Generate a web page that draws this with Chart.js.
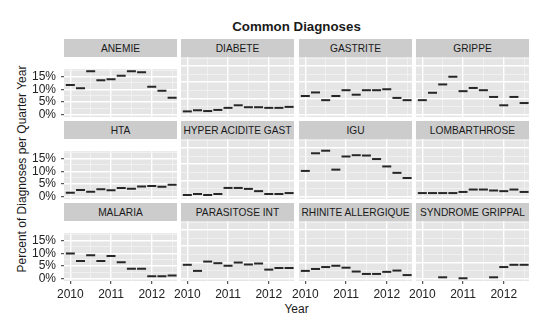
<!DOCTYPE html>
<html>
<head>
<meta charset="utf-8">
<script src="https://cdn.jsdelivr.net/npm/chart.js@4/dist/chart.umd.min.js"></script>
<style>
  html, body { margin: 0; padding: 0; background: #ffffff; }
  #fig { position: relative; width: 550px; height: 327px; overflow: hidden;
         font-family: "Liberation Sans", Arial, sans-serif; color: #1a1a1a; }
  .cell { position: absolute; }
  .strip { position: absolute; background: #CCCCCC; color: #1a1a1a; font-size: 10.2px;
           text-align: center; white-space: nowrap; box-sizing: border-box; padding-top: 1.5px; }
  .title { position: absolute; font-weight: bold; font-size: 13.3px; line-height: 16px;
           white-space: nowrap; text-align: center; }
  .axis-title { position: absolute; font-size: 12px; line-height: 14px; white-space: nowrap;
                text-align: center; }
</style>
</head>
<body>
<div id="fig">
  <div class="title" style="left:196.5px;width:200px;top:19.4px;">Common Diagnoses</div>
  <div class="axis-title" style="left:246.5px;width:100px;top:301.8px;">Year</div>
  <div class="axis-title" style="left:-128.2px;width:300px;top:162px;transform:rotate(-90deg);">Percent of Diagnoses per Quarter Year</div>
</div>
<script>
// Quarter start dates (decimal years) and facet names
const quarters = [2010, 2010.25, 2010.5, 2010.75, 2011, 2011.25, 2011.5, 2011.75, 2012, 2012.25, 2012.5];
const diagnoses = ['ANEMIE', 'DIABETE', 'GASTRITE', 'GRIPPE',
                   'HTA', 'HYPER ACIDITE GAST', 'IGU', 'LOMBARTHROSE',
                   'MALARIA', 'PARASITOSE INT', 'RHINITE ALLERGIQUE', 'SYNDROME GRIPPAL'];

// Percent of diagnoses per quarter (null = no cases recorded that quarter)
const anemie            = [11.7, 10.4, 17.0, 13.5, 13.9, 15.3, 17.0, 16.7, 11.0, 9.4, 6.7];
const diabete           = [0.9, 1.25, 1.0, 1.35, 2.0, 2.8, 2.2, 2.2, 2.0, 2.0, 2.3];
const gastrite          = [5.7, 6.8, 4.4, 5.7, 7.5, 6.1, 7.5, 7.5, 7.8, 5.1, 4.4];
const grippe            = [4.4, 6.7, 9.3, 11.7, 7.2, 8.2, 7.5, 5.4, 2.8, 5.4, 3.5];
const hta               = [1.6, 2.7, 2.0, 3.0, 2.6, 3.5, 3.2, 4.0, 4.2, 3.9, 4.7];
const hyperAciditeGast  = [0.4, 0.7, 0.4, 0.7, 2.6, 2.6, 2.3, 1.6, 0.7, 0.7, 1.0];
const igu               = [7.9, 13.4, 14.2, 8.3, 12.4, 12.8, 12.7, 11.6, 9.3, 7.3, 5.7];
const lombarthrose      = [1.0, 1.0, 1.0, 1.0, 1.35, 2.1, 2.1, 1.8, 1.6, 2.1, 1.35];
const malaria           = [9.9, 7.0, 9.2, 7.0, 8.9, 6.5, 3.9, 3.9, 1.0, 1.0, 1.35];
const parasitoseInt     = [4.2, 2.3, 5.2, 4.7, 3.9, 4.9, 4.3, 4.6, 2.7, 3.2, 3.2];
const rhiniteAllergique = [2.3, 2.9, 3.5, 3.9, 3.3, 2.1, 1.35, 1.35, 2.0, 2.4, 1.0];
const syndromeGrippal   = [null, null, 0.3, null, 0.0, null, null, 0.3, 3.5, 4.2, 4.2];

// Axis breaks
const yearTicks = [2010, 2011, 2012];
const yearMinor = [2010.5, 2011.5, 2012.5];
const percentTicks = [0, 5, 10, 15];
const percentMinor = [2.5, 7.5, 12.5, 17.5];

const seriesList = [anemie, diabete, gastrite, grippe, hta, hyperAciditeGast,
                    igu, lombarthrose, malaria, parasitoseInt, rhiniteAllergique, syndromeGrippal];

// Facet grid geometry
const COL_LEFT = [64, 181, 299, 416];
const ROW_TOP = [57, 139, 221];
const PANEL_W = 113, PANEL_H = 60, STRIP_H = 18;
const AXIS_W = 40, AXIS_H = 22, PAD_R = 10;
const X_MIN = 2009.845, X_MAX = 2012.62;
const Y_MIN = -0.85, Y_MAX = 17.85;

const FONT = '"Liberation Sans", Arial, sans-serif';
const TEXT_COL = '#222222';
const fig = document.getElementById('fig');

const panelBackground = {
  id: 'panelBackground',
  beforeDraw(chart) {
    const { ctx, chartArea } = chart;
    ctx.save();
    ctx.fillStyle = '#E5E5E5';
    ctx.fillRect(chartArea.left, chartArea.top, chartArea.width, chartArea.height);
    ctx.restore();
  }
};

const isIn = (arr, v) => arr.some(a => Math.abs(a - v) < 1e-9);

function drawFacet(i) {
  const col = i % 4, row = Math.floor(i / 4);
  const isLeft = col === 0, isBottom = row === 2;

  const strip = document.createElement('div');
  strip.className = 'strip';
  strip.style.left = COL_LEFT[col] + 'px';
  strip.style.top = (ROW_TOP[row] - STRIP_H) + 'px';
  strip.style.width = PANEL_W + 'px';
  strip.style.height = STRIP_H + 'px';
  strip.style.lineHeight = (STRIP_H - 1.5) + 'px';
  strip.textContent = diagnoses[i];
  fig.appendChild(strip);

  const wrap = document.createElement('div');
  wrap.className = 'cell';
  wrap.style.left = (COL_LEFT[col] - AXIS_W) + 'px';
  wrap.style.top = ROW_TOP[row] + 'px';
  wrap.style.width = (AXIS_W + PANEL_W + PAD_R) + 'px';
  wrap.style.height = (PANEL_H + AXIS_H) + 'px';
  const canvas = document.createElement('canvas');
  wrap.appendChild(canvas);
  fig.appendChild(wrap);

  const points = [];
  quarters.forEach((q, k) => {
    const v = seriesList[i][k];
    if (v !== null && v !== undefined) points.push({ x: q, y: v });
  });

  new Chart(canvas, {
    type: 'scatter',
    data: {
      datasets: [{
        data: points,
        pointStyle: 'line',
        pointRadius: 4.5,
        pointHoverRadius: 4.5,
        pointBorderWidth: 2,
        pointBorderColor: '#262626',
        pointBackgroundColor: '#262626'
      }]
    },
    options: {
      responsive: true,
      maintainAspectRatio: false,
      animation: false,
      events: [],
      layout: { padding: { left: 0, right: PAD_R, top: 0, bottom: 0 }, autoPadding: false },
      plugins: { legend: { display: false }, tooltip: { enabled: false } },
      scales: {
        x: {
          type: 'linear', position: 'bottom', min: X_MIN, max: X_MAX,
          afterBuildTicks: s => { s.ticks = yearTicks.concat(yearMinor).sort((a, b) => a - b).map(v => ({ value: v })); },
          afterFit: s => { s.height = AXIS_H; },
          border: { display: false },
          grid: {
            color: c => (c.tick && isIn(yearTicks, c.tick.value)) ? '#FFFFFF' : '#F2F2F2',
            lineWidth: c => (c.tick && isIn(yearTicks, c.tick.value)) ? 1.4 : 0.8,
            drawTicks: isBottom,
            tickLength: 3,
            tickWidth: 1,
            tickColor: c => (c.tick && isIn(yearTicks, c.tick.value)) ? '#333333' : 'rgba(0,0,0,0)'
          },
          ticks: {
            display: isBottom, autoSkip: false, maxRotation: 0, padding: 3,
            color: TEXT_COL, font: { family: FONT, size: 12 },
            callback: v => isIn(yearTicks, v) ? String(v) : ''
          }
        },
        y: {
          type: 'linear', position: 'left', min: Y_MIN, max: Y_MAX,
          afterBuildTicks: s => { s.ticks = percentTicks.concat(percentMinor).sort((a, b) => a - b).map(v => ({ value: v })); },
          afterFit: s => { s.width = AXIS_W; },
          border: { display: false },
          grid: {
            color: c => (c.tick && isIn(percentTicks, c.tick.value)) ? '#FFFFFF' : '#F2F2F2',
            lineWidth: c => (c.tick && isIn(percentTicks, c.tick.value)) ? 1.4 : 0.8,
            drawTicks: isLeft,
            tickLength: 3,
            tickWidth: 1,
            tickColor: c => (c.tick && isIn(percentTicks, c.tick.value)) ? '#333333' : 'rgba(0,0,0,0)'
          },
          ticks: {
            display: isLeft, autoSkip: false, padding: 5,
            color: TEXT_COL, font: { family: FONT, size: 12 },
            callback: v => isIn(percentTicks, v) ? v + '%' : ''
          }
        }
      }
    },
    plugins: [panelBackground]
  });
}

diagnoses.forEach((_, i) => drawFacet(i));
</script>
</body>
</html>
